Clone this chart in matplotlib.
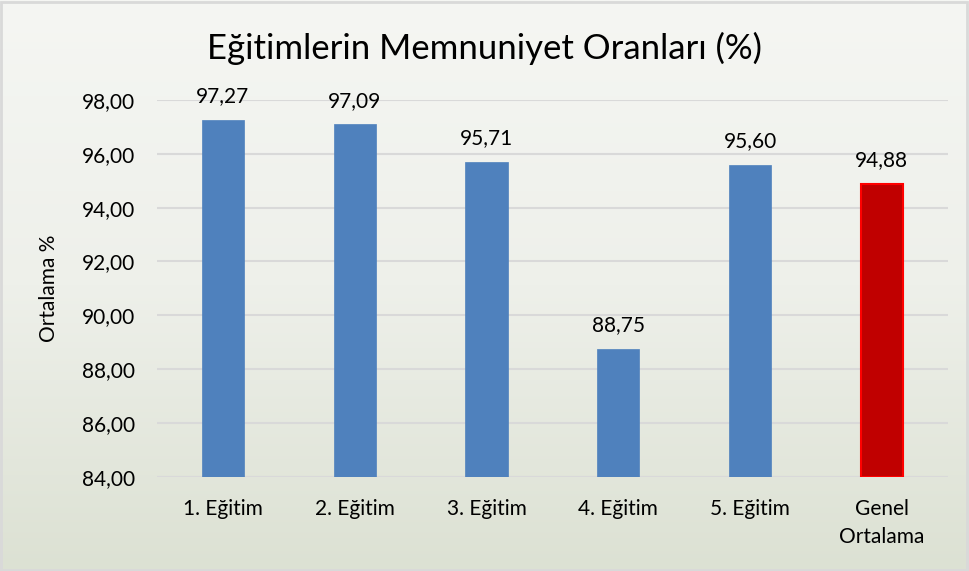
import numpy as np
import matplotlib.pyplot as plt
from matplotlib.colors import LinearSegmentedColormap

# veriler
kategoriler = ["1. Eğitim", "2. Eğitim", "3. Eğitim", "4. Eğitim", "5. Eğitim", "Genel\nOrtalama"]
oranlar = [97.27, 97.09, 95.71, 88.75, 95.60, 94.88]
yticks = [84, 86, 88, 90, 92, 94, 96, 98]

plt.rcParams['font.family'] = ['Lato', 'DejaVu Sans']

fig = plt.figure(figsize=(9.69, 5.71), dpi=100)

# arka plan gradyani
bg = fig.add_axes([0, 0, 1, 1], zorder=-10)
cmap = LinearSegmentedColormap.from_list("bg", ["#f5f6f3", "#eef0ea", "#dce1d3"])
grad = np.linspace(0, 1, 256).reshape(-1, 1)
bg.imshow(grad, aspect='auto', cmap=cmap, extent=[0, 1, 0, 1], origin='upper')
bg.set_xlim(0, 1)
bg.set_ylim(0, 1)
bg.axis('off')
bg.add_patch(plt.Rectangle((0.001, 0.002), 0.997, 0.995, fill=False,
                           edgecolor="#d9d9d9", linewidth=2, transform=bg.transAxes))

ax = fig.add_axes([0.162, 0.165, 0.816, 0.66])
ax.patch.set_alpha(0)

x = np.arange(len(kategoriler))
renkler = ["#4f81bd"] * 5 + ["#c00000"]
kenarlar = ["#4f81bd"] * 5 + ["#ff0000"]
bars = ax.bar(x, [v - 84 for v in oranlar], bottom=84, width=0.32,
              color=renkler, edgecolor=kenarlar, linewidth=[0.5] * 5 + [1.5], zorder=3)

for xi, v in zip(x, oranlar):
    ax.text(xi, v + 0.5, f"{v:.2f}".replace(".", ","), ha='center', va='bottom',
            fontsize=15, color="#000000")

ax.set_ylim(84, 98)
ax.set_xlim(-0.5, len(kategoriler) - 0.5)
ax.set_yticks(yticks)
ax.set_yticklabels([f"{t:.2f}".replace(".", ",") for t in yticks], fontsize=15)
ax.set_xticks(x)
ax.set_xticklabels(kategoriler, fontsize=15, linespacing=1.5)
ax.tick_params(axis='y', length=0, pad=16)
ax.tick_params(axis='x', length=0, pad=16)
ax.grid(axis='y', color="#d9d9d9", linewidth=1.5, zorder=0)
for s in ax.spines.values():
    s.set_visible(False)
ax.set_ylabel("Ortalama %", fontsize=15, labelpad=16)

fig.text(0.5, 0.915, "Eğitimlerin Memnuniyet Oranları (%)", ha='center', va='center', fontsize=25)

fig.savefig("out.png", dpi=100)
